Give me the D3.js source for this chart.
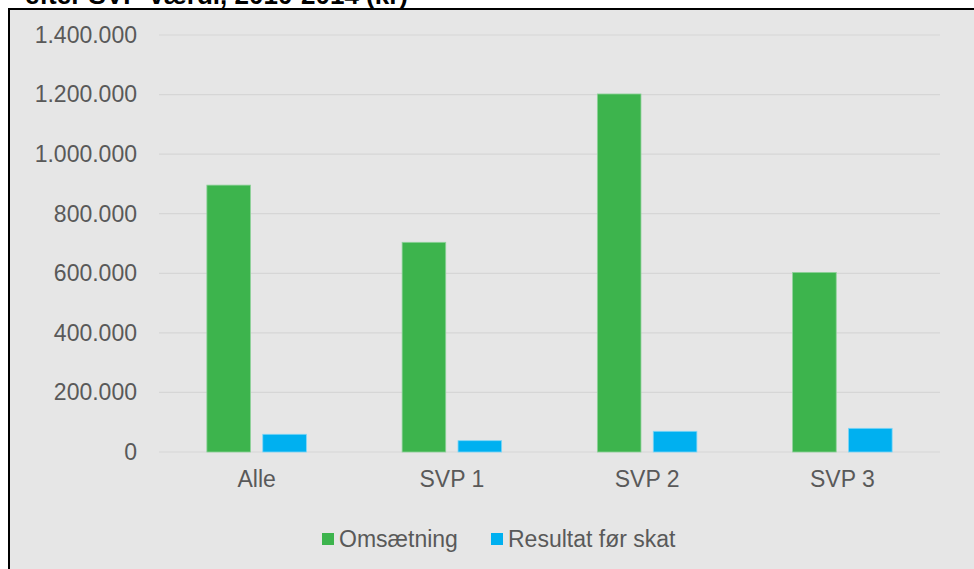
<!DOCTYPE html>
<html>
<head>
<meta charset="utf-8">
<title>Omsætning og resultat efter SVP-værdi</title>
<script src="https://cdnjs.cloudflare.com/ajax/libs/d3/7.8.5/d3.min.js"></script>
<style>
  html, body { margin: 0; padding: 0; background: #fff; }
  svg { display: block; font-family: "Liberation Sans", Arial, sans-serif; }
</style>
</head>
<body>
<svg id="chart" width="974" height="569"></svg>
<script>
// data
var categories = ["Alle", "SVP 1", "SVP 2", "SVP 3"];
var seriesNames = ["Omsætning", "Resultat før skat"];
var omsaetning = [896000, 704000, 1202000, 603000];
var resultat = [59500, 38000, 69500, 79500];
var yTicks = [0, 200000, 400000, 600000, 800000, 1000000, 1200000, 1400000];
var colors = ["#3db44d", "#00b0f0"];

var svg = d3.select("#chart");

// frame
svg.append("rect")
  .attr("x", 9).attr("y", 9)
  .attr("width", 980).attr("height", 580)
  .attr("fill", "#e6e6e6")
  .attr("stroke", "#000").attr("stroke-width", 2);

// title, cut off by the top edge like in the original
svg.append("text")
  .attr("x", 25).attr("y", 4)
  .attr("font-size", 26).attr("font-weight", "bold")
  .attr("fill", "#000")
  .text("efter SVP-værdi, 2010-2014 (kr)");

var plot = { left: 159, right: 940, top: 35, bottom: 452 };

var x = d3.scaleBand().domain(categories).range([plot.left, plot.right]).padding(0);
var y = d3.scaleLinear().domain([0, 1400000]).range([plot.bottom, plot.top]);

var fmt = function(v) {
  return d3.format(",")(v).replace(/,/g, ".");
};

// gridlines
svg.append("g")
  .selectAll("line")
  .data(yTicks)
  .join("line")
  .attr("x1", plot.left).attr("x2", plot.right)
  .attr("y1", function(d) { return y(d); })
  .attr("y2", function(d) { return y(d); })
  .attr("stroke", "#d6d6d6").attr("stroke-width", 1.2);

// y axis labels
var yAxis = d3.axisLeft(y).tickValues(yTicks).tickFormat(fmt).tickSize(0).tickPadding(0);
var yg = svg.append("g").attr("transform", "translate(137,0)").call(yAxis);
yg.select(".domain").remove();
yg.selectAll("text").attr("font-size", 23).attr("fill", "#595959")
  .attr("font-family", "Liberation Sans, Arial, sans-serif");

// x axis labels
var xAxis = d3.axisBottom(x).tickSize(0).tickPadding(0);
var xg = svg.append("g").attr("transform", "translate(0," + (plot.bottom + 19) + ")").call(xAxis);
xg.select(".domain").remove();
xg.selectAll("text").attr("font-size", 23).attr("fill", "#595959")
  .attr("font-family", "Liberation Sans, Arial, sans-serif");

// bars
var inner = d3.scaleBand().domain([0, 1]).range([0, 99.5]).paddingInner(0.22);
var groupOffset = (x.bandwidth() - 99.5) / 2;
var series = [omsaetning, resultat];

series.forEach(function(vals, si) {
  svg.append("g")
    .selectAll("rect")
    .data(vals)
    .join("rect")
    .attr("x", function(d, i) { return x(categories[i]) + groupOffset + inner(si); })
    .attr("y", function(d) { return y(d); })
    .attr("width", inner.bandwidth())
    .attr("height", function(d) { return y(0) - y(d); })
    .attr("fill", colors[si])
    .attr("stroke", si === 0 ? "#8fd29a" : "#7fd6f7")
    .attr("stroke-width", 0.8);
});

// legend
var legendItems = [
  { name: seriesNames[0], color: colors[0], x: 322 },
  { name: seriesNames[1], color: colors[1], x: 491 }
];
var lg = svg.append("g");
legendItems.forEach(function(it) {
  lg.append("rect")
    .attr("x", it.x).attr("y", 533)
    .attr("width", 12).attr("height", 12)
    .attr("fill", it.color);
  lg.append("text")
    .attr("x", it.x + 17).attr("y", 547)
    .attr("font-size", 23).attr("fill", "#595959")
    .text(it.name);
});
</script>
</body>
</html>
